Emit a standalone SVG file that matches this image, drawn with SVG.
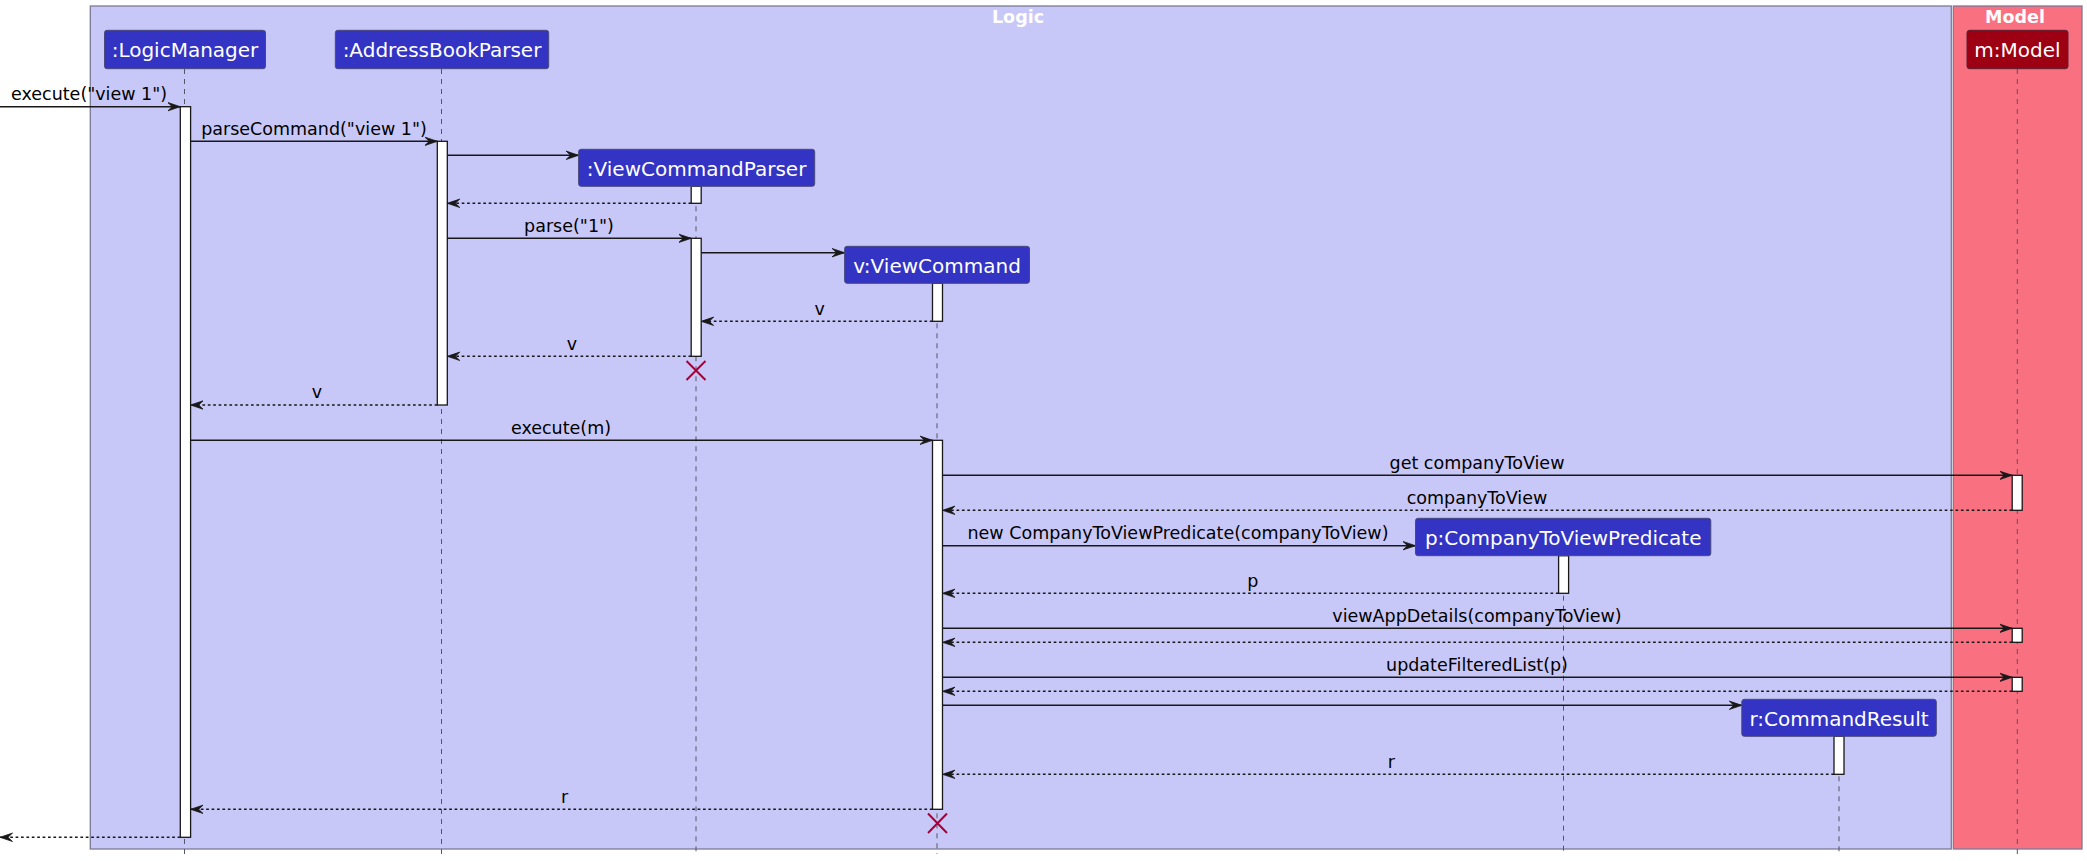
<svg xmlns="http://www.w3.org/2000/svg" width="2087" height="861" viewBox="0 0 2087 861">
<style>
text{font-family:"DejaVu Sans","Liberation Sans",sans-serif;}
.frame-logic{fill:#C8C8F8;stroke:#7A7A96;stroke-width:1.3;}
.frame-model{fill:#F97181;stroke:#7A7A96;stroke-width:1.3;}
.ftitle{font-size:17.5px;font-weight:bold;fill:#FFFFFF;text-anchor:middle;}
.pbox{fill:#3333C4;stroke:#4A4A7A;stroke-width:1;}
.mbox{fill:#9D0013;stroke:#5A2030;stroke-width:1;}
.pname{font-size:20px;fill:#FFFFFF;text-anchor:middle;}
.life{stroke:#555566;stroke-width:1;stroke-dasharray:5,5;fill:none;}
.act{fill:#FFFFFF;stroke:#181818;stroke-width:1.3;}
.msg{stroke:#181818;stroke-width:1.4;fill:none;marker-end:url(#ah);}
.ret{stroke:#181818;stroke-width:1.4;fill:none;stroke-dasharray:2.7,2.7;marker-end:url(#ah);}
.lbl{font-size:17.5px;fill:#000000;text-anchor:middle;}
.kill{stroke:#A80036;stroke-width:2;}
</style>
<defs>
<marker id="ah" markerWidth="14" markerHeight="12" refX="12.5" refY="6" orient="auto" markerUnits="userSpaceOnUse">
<polygon points="0,1.8 12.5,6 0,10.2 4.5,6" fill="#181818" stroke="#181818" stroke-width="0.8" stroke-linejoin="round"/>
</marker>
</defs>

<g id="frames">
<rect class="frame-logic" x="90.3" y="6" width="1861" height="843"/>
<text class="ftitle" x="1018" y="22.7">Logic</text>
<rect class="frame-model" x="1953.3" y="6" width="128.7" height="843"/>
<text class="ftitle" x="2015" y="22.7">Model</text>
</g>

<g id="lifelines">
<line class="life" x1="184.5" y1="69" x2="184.5" y2="854"/>
<line class="life" x1="441.5" y1="69" x2="441.5" y2="854"/>
<line class="life" x1="696" y1="186.3" x2="696" y2="854"/>
<line class="life" x1="937" y1="283.3" x2="937" y2="854"/>
<line class="life" x1="1563.5" y1="555.7" x2="1563.5" y2="854"/>
<line class="life" x1="1839" y1="736.3" x2="1839" y2="854"/>
<line class="life" x1="2017.3" y1="69" x2="2017.3" y2="854"/>
</g>

<g id="activations">
<rect class="act" x="180.3" y="106.7" width="10.3" height="730.6"/>
<rect class="act" x="437.3" y="141.3" width="10" height="263.7"/>
<rect class="act" x="691.2" y="186.3" width="10" height="17"/>
<rect class="act" x="691.2" y="238.3" width="10" height="118"/>
<rect class="act" x="932.5" y="283.3" width="10" height="38"/>
<rect class="act" x="932.5" y="440.3" width="10" height="369"/>
<rect class="act" x="2012.2" y="475.3" width="10" height="35"/>
<rect class="act" x="1558.6" y="555.7" width="10" height="37.6"/>
<rect class="act" x="2012.2" y="628.3" width="10" height="14"/>
<rect class="act" x="2012.2" y="677.3" width="10" height="14"/>
<rect class="act" x="1834" y="736.3" width="10" height="38"/>
</g>

<g id="connectors">
<line class="msg" x1="0" y1="106.7" x2="180.3" y2="106.7"/>
<text class="lbl" x="11" y="100" style="text-anchor:start">execute("view 1")</text>

<line class="msg" x1="190.6" y1="141.3" x2="437.3" y2="141.3"/>
<text class="lbl" x="314" y="134.8">parseCommand("view 1")</text>

<line class="msg" x1="447.3" y1="155.3" x2="578.6" y2="155.3"/>

<line class="ret" x1="691.2" y1="203.3" x2="447.3" y2="203.3"/>

<line class="msg" x1="447.3" y1="238.3" x2="691.2" y2="238.3"/>
<text class="lbl" x="569" y="231.7">parse("1")</text>

<line class="msg" x1="701.2" y1="252.7" x2="844.6" y2="252.7"/>

<line class="ret" x1="932.5" y1="321.3" x2="701.2" y2="321.3"/>
<text class="lbl" x="819.6" y="314.6">v</text>

<line class="ret" x1="691.2" y1="356.3" x2="447.3" y2="356.3"/>
<text class="lbl" x="571.9" y="349.6">v</text>

<line class="ret" x1="437.3" y1="405" x2="190.6" y2="405"/>
<text class="lbl" x="317" y="398.3">v</text>

<line class="msg" x1="190.6" y1="440.3" x2="932.5" y2="440.3"/>
<text class="lbl" x="561" y="433.6">execute(m)</text>

<line class="msg" x1="942.5" y1="475.3" x2="2012.2" y2="475.3"/>
<text class="lbl" x="1477" y="468.6">get companyToView</text>

<line class="ret" x1="2012.2" y1="510.3" x2="942.5" y2="510.3"/>
<text class="lbl" x="1477" y="503.6">companyToView</text>

<line class="msg" x1="942.5" y1="545.7" x2="1415.5" y2="545.7"/>
<text class="lbl" x="1178" y="539">new CompanyToViewPredicate(companyToView)</text>

<line class="ret" x1="1558.6" y1="593.3" x2="942.5" y2="593.3"/>
<text class="lbl" x="1252.8" y="586.6">p</text>

<line class="msg" x1="942.5" y1="628.3" x2="2012.2" y2="628.3"/>
<text class="lbl" x="1477" y="621.6">viewAppDetails(companyToView)</text>

<line class="ret" x1="2012.2" y1="642.3" x2="942.5" y2="642.3"/>

<line class="msg" x1="942.5" y1="677.3" x2="2012.2" y2="677.3"/>
<text class="lbl" x="1477" y="670.6">updateFilteredList(p)</text>

<line class="ret" x1="2012.2" y1="691.3" x2="942.5" y2="691.3"/>

<line class="msg" x1="942.5" y1="705.3" x2="1741.8" y2="705.3"/>

<line class="ret" x1="1834" y1="774.3" x2="942.5" y2="774.3"/>
<text class="lbl" x="1391.3" y="767.6">r</text>

<line class="ret" x1="932.5" y1="809.3" x2="190.6" y2="809.3"/>
<text class="lbl" x="564.7" y="802.6">r</text>

<line class="ret" x1="180.3" y1="837.3" x2="0" y2="837.3"/>
</g>

<g id="destroy-vcp">
<line class="kill" x1="686.5" y1="361" x2="705.5" y2="380"/>
<line class="kill" x1="705.5" y1="361" x2="686.5" y2="380"/>
</g>
<g id="destroy-vc">
<line class="kill" x1="928" y1="813.5" x2="947" y2="833"/>
<line class="kill" x1="947" y1="813.5" x2="928" y2="833"/>
</g>

<g id="node-logicmanager">
<rect class="pbox" x="104.5" y="30.3" width="161" height="38.4" rx="2.5"/>
<text class="pname" x="185" y="57.3">:LogicManager</text>
</g>
<g id="node-addressbookparser">
<rect class="pbox" x="335.3" y="30.3" width="213.4" height="38.4" rx="2.5"/>
<text class="pname" x="442" y="57.3">:AddressBookParser</text>
</g>
<g id="node-viewcommandparser">
<rect class="pbox" x="578.6" y="149.3" width="236.1" height="37" rx="2.5"/>
<text class="pname" x="696.6" y="175.5">:ViewCommandParser</text>
</g>
<g id="node-viewcommand">
<rect class="pbox" x="844.6" y="246.3" width="184.9" height="37" rx="2.5"/>
<text class="pname" x="937" y="272.5">v:ViewCommand</text>
</g>
<g id="node-companytoviewpredicate">
<rect class="pbox" x="1415.5" y="518.3" width="295.3" height="37.4" rx="2.5"/>
<text class="pname" x="1563.2" y="544.6">p:CompanyToViewPredicate</text>
</g>
<g id="node-commandresult">
<rect class="pbox" x="1741.8" y="699.3" width="194.5" height="37" rx="2.5"/>
<text class="pname" x="1839" y="725.5">r:CommandResult</text>
</g>
<g id="node-model">
<rect class="mbox" x="1967" y="30.3" width="101" height="38.4" rx="2.5"/>
<text class="pname" x="2017.5" y="57.3">m:Model</text>
</g>
</svg>
